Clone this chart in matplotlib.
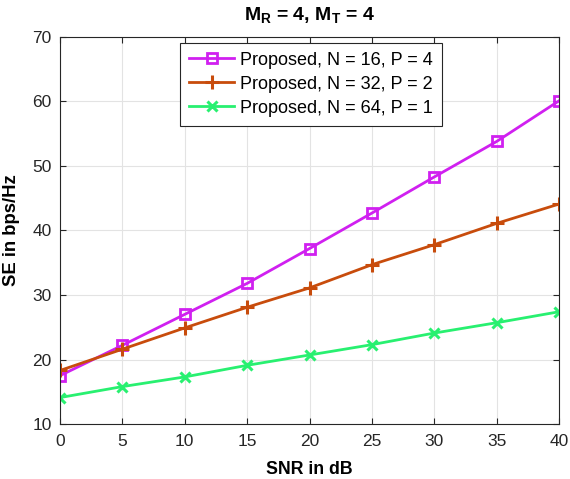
import matplotlib
matplotlib.use("Agg")
import matplotlib.pyplot as plt

snr = [0, 5, 10, 15, 20, 25, 30, 35, 40]
se_n16 = [17.5, 22.2, 27.0, 31.8, 37.2, 42.7, 48.3, 53.8, 60.1]
se_n32 = [18.3, 21.6, 24.9, 28.1, 31.1, 34.7, 37.8, 41.1, 44.1]
se_n64 = [14.1, 15.8, 17.3, 19.1, 20.7, 22.3, 24.1, 25.7, 27.4]
labels = ["Proposed, N = 16, P = 4", "Proposed, N = 32, P = 2", "Proposed, N = 64, P = 1"]

plt.rcParams['font.family'] = ['Liberation Sans', 'DejaVu Sans']
plt.rcParams['mathtext.fontset'] = 'custom'
plt.rcParams['mathtext.bf'] = 'Liberation Sans:bold'
plt.rcParams['mathtext.rm'] = 'Liberation Sans'
fig = plt.figure(figsize=(5.7, 4.79), dpi=100)
ax = fig.add_axes([0.1053, 0.1148, 0.8754, 0.808])

ax.plot(snr, se_n16, color='#D020F0', lw=2, marker='s', ms=7, mfc='none', mew=2, label=labels[0])
ax.plot(snr, se_n32, color='#C84C0C', lw=2, marker='+', ms=10, mew=2.2, label=labels[1])
ax.plot(snr, se_n64, color='#28F070', lw=2, marker='x', ms=7, mew=2.2, label=labels[2])

ax.set_xlim(0, 40)
ax.set_ylim(10, 70)
ax.set_xticks(range(0, 41, 5))
ax.set_yticks(range(10, 71, 10))
ax.grid(True, color='#E3E3E3', lw=0.8)
ax.set_axisbelow(True)
ax.tick_params(direction='in', top=True, right=True, labelsize=12.5, colors='#262626',
               length=4, width=0.8)
ax.tick_params(axis='x', pad=7)
ax.tick_params(axis='y', pad=6)
for s in ax.spines.values():
    s.set_color('#262626')
ax.set_xlabel('SNR in dB', fontsize=12.8, fontweight='bold', labelpad=9)
ax.set_ylabel('SE in bps/Hz', fontsize=13.3, fontweight='bold', labelpad=9)
ax.set_title(r'$\mathbf{M_R}$ = 4, $\mathbf{M_T}$ = 4', fontsize=14, fontweight='bold', pad=12)

leg = ax.legend(loc='upper left', bbox_to_anchor=(0.241, 0.985), fontsize=13, frameon=True,
                fancybox=False, edgecolor='#262626', framealpha=1, borderpad=0.5,
                labelspacing=0.38, handlelength=2.5, handletextpad=0.3, borderaxespad=0,
                markerscale=1.0)
leg.get_frame().set_linewidth(0.8)

fig.savefig('out.png', dpi=100)
